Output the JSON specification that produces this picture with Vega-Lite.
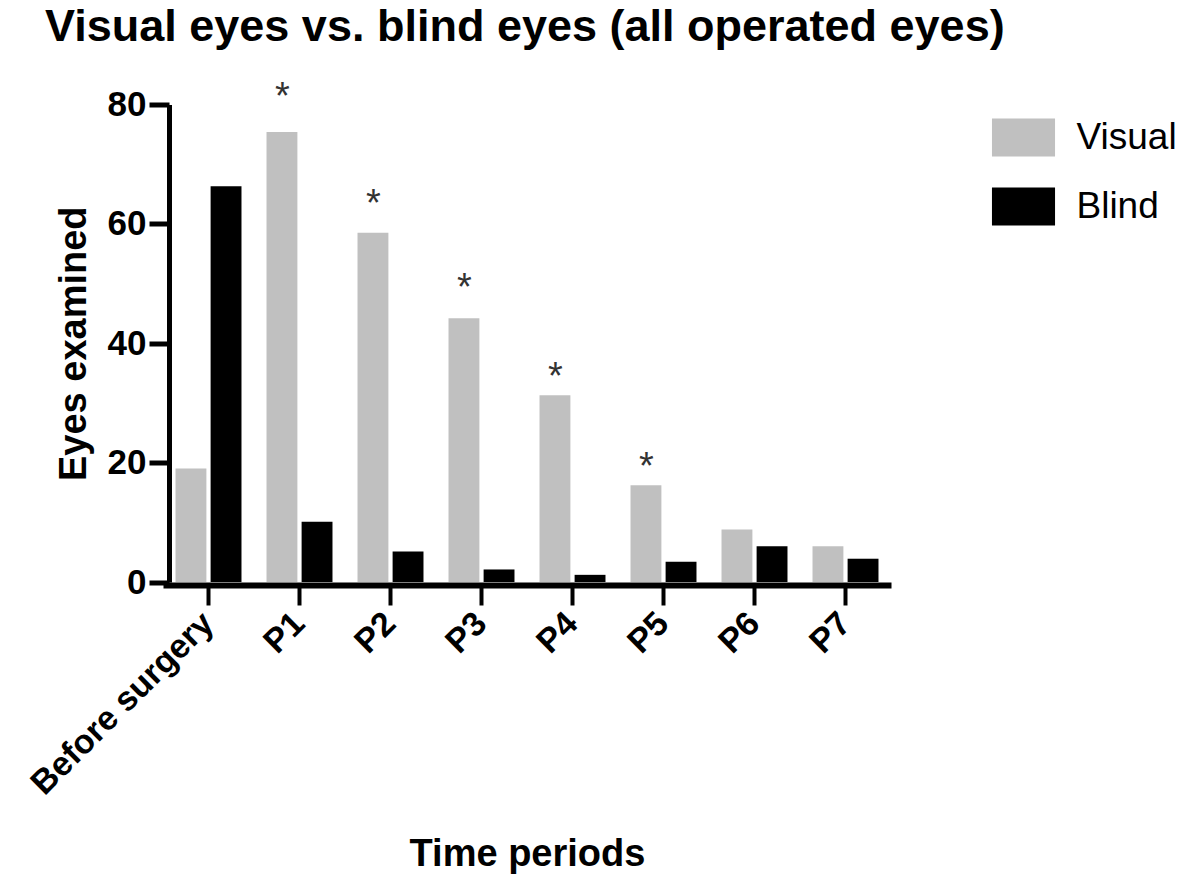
{
  "$schema": "https://vega.github.io/schema/vega-lite/v6.json",
  "autosize": {"type": "none"},
  "padding": {"left": 163, "top": 104.5, "right": 301, "bottom": 295},
  "width": 728,
  "height": 477.5,
  "background": "white",
  "title": {
    "text": "Visual eyes vs. blind eyes (all operated eyes)",
    "anchor": "start",
    "frame": "group",
    "dx": -118,
    "offset": 29,
    "font": "Liberation Sans",
    "fontSize": 45,
    "fontWeight": "bold",
    "color": "#000000"
  },
  "config": {
    "view": {"stroke": null},
    "axis": {"grid": false}
  },
  "datasets": {
    "eyes": [
      {"period": "Before surgery", "group": "Visual", "eyes": 19},
      {"period": "Before surgery", "group": "Blind", "eyes": 66.3},
      {"period": "P1", "group": "Visual", "eyes": 75.4},
      {"period": "P1", "group": "Blind", "eyes": 10.1},
      {"period": "P2", "group": "Visual", "eyes": 58.5},
      {"period": "P2", "group": "Blind", "eyes": 5.1},
      {"period": "P3", "group": "Visual", "eyes": 44.2},
      {"period": "P3", "group": "Blind", "eyes": 2.1},
      {"period": "P4", "group": "Visual", "eyes": 31.3},
      {"period": "P4", "group": "Blind", "eyes": 1.2},
      {"period": "P5", "group": "Visual", "eyes": 16.2},
      {"period": "P5", "group": "Blind", "eyes": 3.4},
      {"period": "P6", "group": "Visual", "eyes": 8.8},
      {"period": "P6", "group": "Blind", "eyes": 6},
      {"period": "P7", "group": "Visual", "eyes": 6},
      {"period": "P7", "group": "Blind", "eyes": 3.9}
    ],
    "stars": [
      {"period": "P1", "star": 82.7},
      {"period": "P2", "star": 64.8},
      {"period": "P3", "star": 50.8},
      {"period": "P4", "star": 35.8},
      {"period": "P5", "star": 20.8}
    ]
  },
  "layer": [
    {
      "data": {"name": "eyes"},
      "mark": {"type": "bar"},
      "encoding": {
        "x": {
          "field": "period",
          "type": "nominal",
          "sort": ["Before surgery", "P1", "P2", "P3", "P4", "P5", "P6", "P7"],
          "scale": {"paddingInner": 0.275, "paddingOuter": 0.1375},
          "axis": {
            "title": "Time periods",
            "titleFont": "Liberation Sans",
            "titleFontSize": 38,
            "titleFontWeight": "bold",
            "titleColor": "#000000",
            "titlePadding": 50,
            "domainColor": "#000000",
            "domainWidth": 6,
            "tickColor": "#000000",
            "tickWidth": 4,
            "tickSize": 20,
            "offset": 3,
            "labelAngle": -45,
            "labelAlign": "right",
            "labelBaseline": "middle",
            "labelPadding": 13,
            "labelLimit": 0,
            "labelFont": "Liberation Sans",
            "labelFontSize": 34,
            "labelFontWeight": "bold",
            "labelColor": "#000000"
          }
        },
        "xOffset": {
          "field": "group",
          "sort": ["Visual", "Blind"],
          "scale": {"paddingInner": 0.12, "paddingOuter": 0}
        },
        "y": {
          "field": "eyes",
          "type": "quantitative",
          "scale": {"domain": [0, 80], "nice": false},
          "axis": {
            "values": [0, 20, 40, 60, 80],
            "title": "Eyes examined",
            "titleFont": "Liberation Sans",
            "titleFontSize": 38,
            "titleFontWeight": "bold",
            "titleColor": "#000000",
            "titlePadding": 14,
            "domainColor": "#000000",
            "domainWidth": 5,
            "tickColor": "#000000",
            "tickWidth": 5,
            "tickSize": 20,
            "offset": -6,
            "labelPadding": 3,
            "labelFont": "Liberation Sans",
            "labelFontSize": 35,
            "labelFontWeight": "bold",
            "labelColor": "#000000"
          }
        },
        "color": {
          "field": "group",
          "type": "nominal",
          "scale": {"domain": ["Visual", "Blind"], "range": ["#c0c0c0", "#000000"]},
          "legend": {
            "title": null,
            "orient": "none",
            "legendX": 841.5,
            "legendY": 14,
            "symbolType": "M-1.66,-1L1.66,-1L1.66,1L-1.66,1Z",
            "symbolSize": 1444,
            "symbolStrokeWidth": 0,
            "symbolOpacity": 1,
            "labelFont": "Liberation Sans",
            "labelFontSize": 37,
            "labelColor": "#000000",
            "labelOffset": 34,
            "rowPadding": 31
          }
        }
      }
    },
    {
      "data": {"name": "stars"},
      "mark": {
        "type": "text",
        "text": "*",
        "font": "Liberation Sans",
        "fontSize": 38,
        "color": "#333333",
        "baseline": "alphabetic",
        "dy": 21,
        "dx": -17
      },
      "encoding": {
        "x": {"field": "period", "type": "nominal"},
        "y": {"field": "star", "type": "quantitative"}
      }
    }
  ]
}
